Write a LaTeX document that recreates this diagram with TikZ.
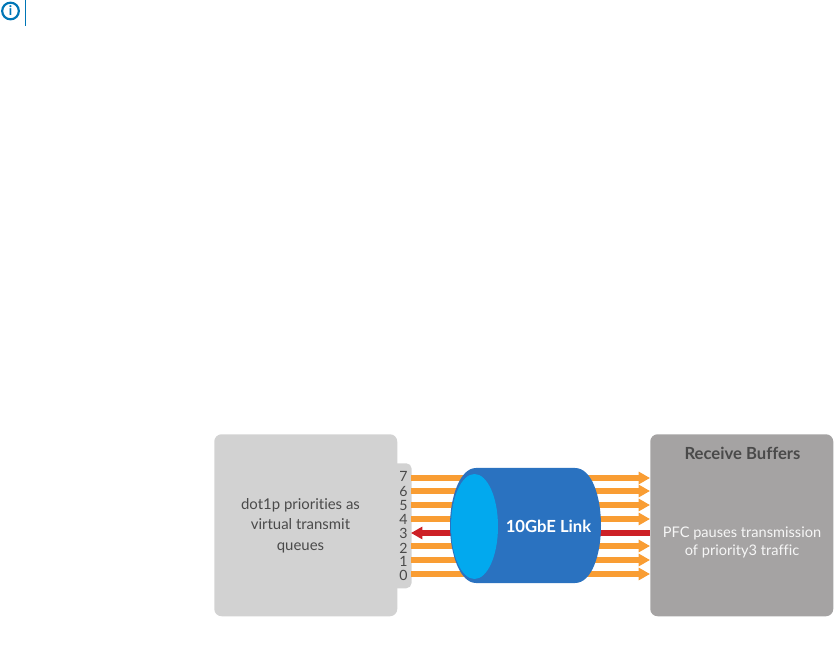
\documentclass[tikz,border=0pt]{standalone}
\usepackage{fontspec}
\setmainfont{Lato}[Ligatures=NoCommon]
\usetikzlibrary{arrows.meta}
\definecolor{lgray}{HTML}{D2D2D2}
\definecolor{dgray}{HTML}{A5A3A3}
\definecolor{linkblue}{HTML}{2A72C0}
\definecolor{lightblue}{HTML}{02A9EE}
\definecolor{iconblue}{HTML}{0076B6}
\definecolor{flow}{HTML}{F99D33}
\definecolor{pausered}{HTML}{CD2026}
\definecolor{txt}{HTML}{4A4A4A}
\tikzset{
  x=0.75pt,y=-0.75pt,
  panel/.style={rounded corners=5.5pt,minimum width=137.25pt,minimum height=136.5pt,inner sep=0pt,anchor=north west},
  prio/.style={font=\fontsize{10.6}{11}\selectfont,text=txt,inner sep=0pt},
  flowline/.style={draw=flow,line width=3.9pt,-{Triangle[length=8.5pt,width=9pt,fill=flow]}},
  redline/.style={draw=pausered,line width=3.9pt,-{Triangle[length=8.5pt,width=9pt,fill=pausered]}},
  bodytext/.style={align=center,inner sep=0pt},
}
\begin{document}
\begin{tikzpicture}
\useasboundingbox (0,0) rectangle (840,659);
% info icon
\node[circle,draw=iconblue,line width=1.6pt,minimum size=12.5pt,inner sep=0pt,font=\fontsize{10}{10}\selectfont\bfseries,text=iconblue] (info) at (10.5,11) {i};
\coordinate (ruleT) at (25.5,0);
\coordinate (ruleB) at (25.5,26);
\draw[iconblue,line width=1.3pt] (ruleT) -- (ruleB);
% panels
\node[fill=lgray,rounded corners=4pt,minimum width=16pt,minimum height=93.75pt,inner sep=0pt,anchor=north west] (tab) at (390,463) {};
\node[panel,fill=lgray] (tx) at (214,434) {};
\node[panel,fill=dgray] (rx) at (650,434) {};
% end points
\foreach \n/\y in {7/476,6/491,5/505,4/519,3/533,2/548,1/561,0/575}{
  \node[prio] (p\n) at (403.5,\y) {\n};
}
\foreach \n/\y in {7/478,6/491,5/505,4/519,3/533,2/546,1/560,0/574}{
  \coordinate (l\n) at (411,\y);
  \coordinate (r\n) at (650,\y);
}
% flows
\foreach \n in {7,6,5,4,2,1,0}{
  \draw[flowline] (l\n) -- (r\n);
}
\draw[redline] (r3) -- (l3);
% cylinder
\fill[linkblue] (476,468) -- (575,468)
  .. controls (592,468) and (601,497) .. (601,525.5)
  .. controls (601,554) and (592,583) .. (575,583)
  -- (476,583)
  .. controls (460,583) and (450,554) .. (450,525.5)
  .. controls (450,497) and (460,468) .. (476,468) -- cycle;
\fill[lightblue] (474.5,526.5) ellipse [x radius=23.5,y radius=52.5];
\node[font=\fontsize{12.5}{14}\selectfont\bfseries,text=white,inner sep=0pt] (link) at (548.5,526) {10GbE Link};
% texts
\node[bodytext,font=\fontsize{11.2}{15.4}\selectfont,text=txt] (txlabel) at (300.5,525.5) {dot1p priorities as\\virtual transmit\\queues};
\node[font=\fontsize{12.5}{14}\selectfont\bfseries,text=txt,inner sep=0pt] (rxtitle) at (742.5,453.5) {Receive Buffers};
\node[bodytext,font=\fontsize{10.95}{13.6}\selectfont,text=white!90!dgray] (rxlabel) at (742,542) {PFC pauses transmission\\of priority3 traffic};
\end{tikzpicture}
\end{document}
